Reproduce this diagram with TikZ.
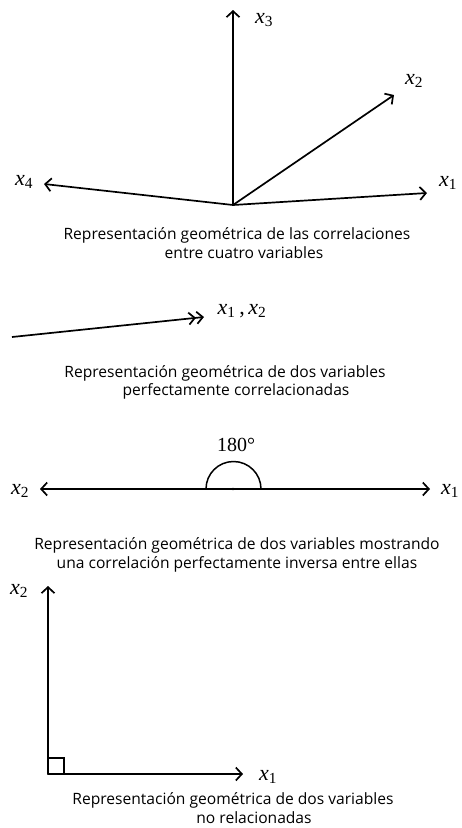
\documentclass[tikz,border=0pt]{standalone}
\usepackage{fontspec}
\setmainfont{Liberation Serif}
\newfontfamily\capfont{Open Sans}
\usetikzlibrary{arrows.meta}
\newcommand{\xv}[1]{\textit{x}\textsubscript{#1}}
\begin{document}
\begin{tikzpicture}[x=1pt,y=-1pt,
  vec/.style={line width=1.7pt,line cap=round,-{Straight Barb[length=6pt,width=13pt,line width=1.7pt]}},
  dvec/.style={line width=1.7pt,-{Straight Barb[length=6pt,width=12pt,line width=1.7pt]Straight Barb[length=6pt,width=12pt,line width=1.7pt]}},
  lbl/.style={font=\fontsize{22}{22}\selectfont, inner sep=0pt},
  captxt/.style={font=\capfont\fontsize{15.6}{18}\selectfont, inner sep=0pt}]
\useasboundingbox (0,0) rectangle (462,828);
% Panel 1
\coordinate (o1) at (233,205);
\coordinate (t1) at (427,193);
\coordinate (t2) at (394,95);
\coordinate (t3) at (233,10);
\coordinate (t4) at (44,184);
\draw[vec] (o1) -- (t1);
\draw[vec] (o1) -- (t2);
\draw[vec] (o1) -- (t3);
\draw[vec] (o1) -- (t4);
\node[lbl] (l1) at (448,183) {\xv{1}};
\node[lbl] (l2) at (414,81) {\xv{2}};
\node[lbl] (l3) at (264,20) {\xv{3}};
\node[lbl] (l4) at (24,182) {\xv{4}};
\node[captxt] (c1a) at (237,235) {Representación geométrica de las correlaciones};
\node[captxt] (c1b) at (244,253) {entre cuatro variables};
% Panel 2
\coordinate (p2s) at (12,337);
\coordinate (p2e) at (204,317);
\draw[dvec] (p2s) -- (p2e);
\node[lbl] (l12) at (242,311) {\xv{1}\,,\,\xv{2}};
\node[captxt] (c2a) at (225,373) {Representación geométrica de dos variables};
\node[captxt] (c2b) at (236,391) {perfectamente correlacionadas};
% Panel 3
\coordinate (o3) at (233,489);
\coordinate (r3) at (430,489);
\coordinate (q3) at (40,489);
\draw[vec] (o3) -- (r3);
\draw[vec] (o3) -- (q3);
\draw[line width=1.5pt] (206,489) arc[start angle=180,end angle=360,radius=27.5];
\fill (o3) circle (1.3pt);
\node[font=\fontsize{20}{20}\selectfont, inner sep=0pt] (ang) at (236,445) {180°};
\node[lbl] (m1) at (450,491) {\xv{1}};
\node[lbl] (m2) at (20,491) {\xv{2}};
\node[captxt] (c3a) at (237,545) {Representación geométrica de dos variables mostrando};
\node[captxt] (c3b) at (237,564) {una correlación perfectamente inversa entre ellas};
% Panel 4
\coordinate (o4) at (48,774);
\coordinate (y4) at (48,586);
\coordinate (x4) at (243,774);
\draw[vec] (o4) -- (y4);
\draw[vec] (o4) -- (x4);
\draw[line width=1.3pt] (48,758) -- (64,758) -- (64,774);
\node[lbl] (n1) at (268,777) {\xv{1}};
\node[lbl] (n2) at (19,591) {\xv{2}};
\node[captxt] (c4a) at (233,800) {Representación geométrica de dos variables};
\node[captxt] (c4b) at (254,818) {no relacionadas};
\end{tikzpicture}
\end{document}
